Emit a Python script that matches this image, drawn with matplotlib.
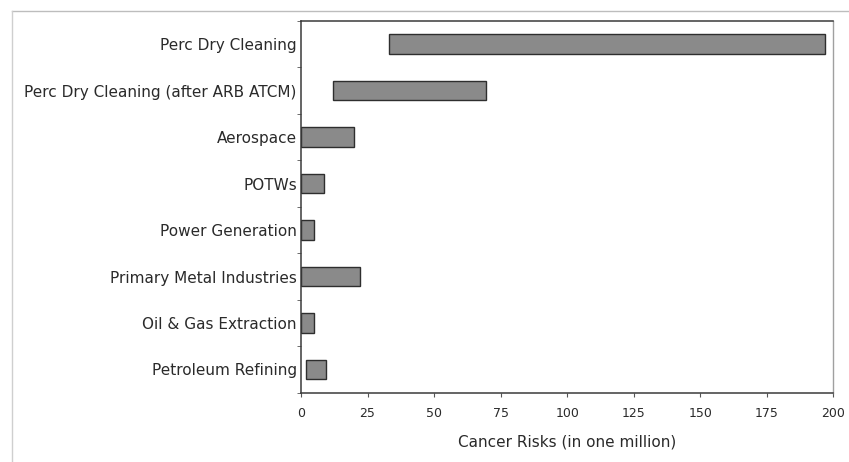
import matplotlib
matplotlib.use("Agg")
import matplotlib.pyplot as plt
from matplotlib.lines import Line2D
import numpy as np

categories = ["Perc Dry Cleaning", "Perc Dry Cleaning (after ARB ATCM)", "Aerospace",
              "POTWs", "Power Generation", "Primary Metal Industries",
              "Oil & Gas Extraction", "Petroleum Refining"]
risk_low = [33, 12, 0, 0, 0, 0, 0, 2]
risk_high = [197, 69.5, 20, 8.5, 5, 22, 4.8, 9.5]
xticks = [0, 25, 50, 75, 100, 125, 150, 175, 200]

plt.rcParams['font.family'] = ['DejaVu Sans']

fig = plt.figure(figsize=(8.49, 4.62), dpi=100)
ax = fig.add_axes([0.3545, 0.150, 0.627, 0.8045])

y = np.arange(len(categories))
widths = [h - l for l, h in zip(risk_low, risk_high)]
ax.barh(y, widths, left=risk_low, height=0.42, color="#8a8a8a",
        edgecolor="#2e2e2e", linewidth=1.0)

txt = "#2a2a2a"
ax.set_ylim(len(categories) - 0.5, -0.5)
ax.set_xlim(0, 200)
ax.set_yticks(y)
ax.set_yticklabels(categories, fontsize=11, color=txt)
ax.set_yticks(np.arange(len(categories) + 1) - 0.5, minor=True)
ax.tick_params(axis='y', which='major', length=0, pad=3)
ax.tick_params(axis='y', which='minor', length=3, color="#555555", direction='out')
ax.set_xticks(xticks)
ax.set_xticklabels([str(t) for t in xticks], fontsize=9, color=txt)
ax.tick_params(axis='x', length=3, color="#555555", direction='out', pad=7)
ax.set_xlabel("Cancer Risks (in one million)", fontsize=11, color=txt, labelpad=11)

for s in ['left', 'bottom', 'top']:
    ax.spines[s].set_color("#3a3a3a")
    ax.spines[s].set_linewidth(1.1)
ax.spines['right'].set_color("#a0a0a0")
ax.spines['right'].set_linewidth(1.0)

# scanned page frame lines
fig.add_artist(Line2D([12/849, 1.0], [1 - 11/462, 1 - 11/462], transform=fig.transFigure,
                      color="#bdbdbd", linewidth=1.0))
fig.add_artist(Line2D([12/849, 12/849], [0, 1 - 11/462], transform=fig.transFigure,
                      color="#cfcfcf", linewidth=1.0))

fig.savefig("out.png", dpi=100)
